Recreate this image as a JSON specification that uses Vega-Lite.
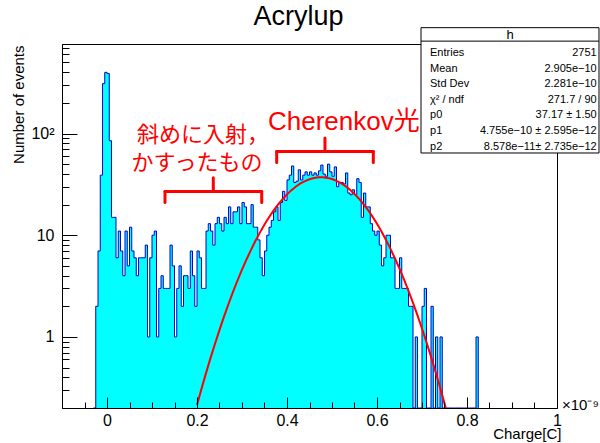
{
  "$schema": "https://vega.github.io/schema/vega-lite/v6.json",
  "width": 495,
  "height": 364,
  "autosize": {"type": "none"},
  "padding": {"left": 62, "top": 44, "right": 43, "bottom": 35},
  "background": "white",
  "config": {
    "view": {"stroke": "#000", "strokeWidth": 1},
    "axis": {"grid": false},
    "font": "Liberation Sans"
  },
  "title": {"text": "Acrylup", "font": "Liberation Sans", "fontSize": 27, "fontWeight": "normal", "color": "#000", "anchor": "middle", "frame": "group", "dx": -11, "offset": -25, "baseline": "alphabetic"},
  "datasets": {
    "hist": [
      {"charge": -0.03, "events": 0}, {"charge": -0.025, "events": 2}, {"charge": -0.02, "events": 7}, {"charge": -0.015, "events": 39},
      {"charge": -0.01, "events": 310}, {"charge": -0.005, "events": 400}, {"charge": 0, "events": 390}, {"charge": 0.005, "events": 85},
      {"charge": 0.01, "events": 15}, {"charge": 0.015, "events": 15}, {"charge": 0.02, "events": 6}, {"charge": 0.025, "events": 11},
      {"charge": 0.03, "events": 7}, {"charge": 0.035, "events": 4}, {"charge": 0.04, "events": 11}, {"charge": 0.045, "events": 5},
      {"charge": 0.05, "events": 12}, {"charge": 0.055, "events": 7}, {"charge": 0.06, "events": 6}, {"charge": 0.065, "events": 4},
      {"charge": 0.07, "events": 6}, {"charge": 0.075, "events": 6}, {"charge": 0.08, "events": 6}, {"charge": 0.085, "events": 8},
      {"charge": 0.09, "events": 1}, {"charge": 0.095, "events": 6}, {"charge": 0.1, "events": 10}, {"charge": 0.105, "events": 11},
      {"charge": 0.11, "events": 1}, {"charge": 0.115, "events": 3}, {"charge": 0.12, "events": 4}, {"charge": 0.125, "events": 3},
      {"charge": 0.13, "events": 3}, {"charge": 0.135, "events": 3}, {"charge": 0.14, "events": 8}, {"charge": 0.145, "events": 5},
      {"charge": 0.15, "events": 1}, {"charge": 0.155, "events": 3}, {"charge": 0.16, "events": 5}, {"charge": 0.165, "events": 2},
      {"charge": 0.17, "events": 4}, {"charge": 0.175, "events": 4}, {"charge": 0.18, "events": 3}, {"charge": 0.185, "events": 7},
      {"charge": 0.19, "events": 4}, {"charge": 0.195, "events": 2}, {"charge": 0.2, "events": 7}, {"charge": 0.205, "events": 6},
      {"charge": 0.21, "events": 3}, {"charge": 0.215, "events": 3}, {"charge": 0.22, "events": 11}, {"charge": 0.225, "events": 13},
      {"charge": 0.23, "events": 11}, {"charge": 0.235, "events": 8}, {"charge": 0.24, "events": 13}, {"charge": 0.245, "events": 15},
      {"charge": 0.25, "events": 13}, {"charge": 0.255, "events": 11}, {"charge": 0.26, "events": 15}, {"charge": 0.265, "events": 13},
      {"charge": 0.27, "events": 19}, {"charge": 0.275, "events": 13}, {"charge": 0.28, "events": 17}, {"charge": 0.285, "events": 17},
      {"charge": 0.29, "events": 19}, {"charge": 0.295, "events": 13}, {"charge": 0.3, "events": 21}, {"charge": 0.305, "events": 19},
      {"charge": 0.31, "events": 13}, {"charge": 0.315, "events": 13}, {"charge": 0.32, "events": 20}, {"charge": 0.325, "events": 12},
      {"charge": 0.33, "events": 12}, {"charge": 0.335, "events": 9}, {"charge": 0.34, "events": 6}, {"charge": 0.345, "events": 4},
      {"charge": 0.35, "events": 7}, {"charge": 0.355, "events": 10}, {"charge": 0.36, "events": 12}, {"charge": 0.365, "events": 14},
      {"charge": 0.37, "events": 17}, {"charge": 0.375, "events": 19}, {"charge": 0.38, "events": 14}, {"charge": 0.385, "events": 21},
      {"charge": 0.39, "events": 27}, {"charge": 0.395, "events": 22}, {"charge": 0.4, "events": 35}, {"charge": 0.405, "events": 39},
      {"charge": 0.41, "events": 48}, {"charge": 0.415, "events": 33}, {"charge": 0.42, "events": 34}, {"charge": 0.425, "events": 44},
      {"charge": 0.43, "events": 35}, {"charge": 0.435, "events": 39}, {"charge": 0.44, "events": 42}, {"charge": 0.445, "events": 39},
      {"charge": 0.45, "events": 42}, {"charge": 0.455, "events": 39}, {"charge": 0.46, "events": 41}, {"charge": 0.465, "events": 39},
      {"charge": 0.47, "events": 43}, {"charge": 0.475, "events": 49}, {"charge": 0.48, "events": 40}, {"charge": 0.485, "events": 38},
      {"charge": 0.49, "events": 50}, {"charge": 0.495, "events": 42}, {"charge": 0.5, "events": 38}, {"charge": 0.505, "events": 47},
      {"charge": 0.51, "events": 30}, {"charge": 0.515, "events": 33}, {"charge": 0.52, "events": 33}, {"charge": 0.525, "events": 32},
      {"charge": 0.53, "events": 41}, {"charge": 0.535, "events": 26}, {"charge": 0.54, "events": 25}, {"charge": 0.545, "events": 28},
      {"charge": 0.55, "events": 25}, {"charge": 0.555, "events": 36}, {"charge": 0.56, "events": 33}, {"charge": 0.565, "events": 15},
      {"charge": 0.57, "events": 26}, {"charge": 0.575, "events": 19}, {"charge": 0.58, "events": 19}, {"charge": 0.585, "events": 13},
      {"charge": 0.59, "events": 11}, {"charge": 0.595, "events": 10}, {"charge": 0.6, "events": 11}, {"charge": 0.605, "events": 8},
      {"charge": 0.61, "events": 5}, {"charge": 0.615, "events": 6}, {"charge": 0.62, "events": 10}, {"charge": 0.625, "events": 10},
      {"charge": 0.63, "events": 6}, {"charge": 0.635, "events": 6}, {"charge": 0.64, "events": 3}, {"charge": 0.645, "events": 3},
      {"charge": 0.65, "events": 6}, {"charge": 0.655, "events": 3}, {"charge": 0.66, "events": 3}, {"charge": 0.665, "events": 3},
      {"charge": 0.67, "events": 2}, {"charge": 0.675, "events": 2}, {"charge": 0.68, "events": 0}, {"charge": 0.685, "events": 1},
      {"charge": 0.69, "events": 0}, {"charge": 0.695, "events": 0}, {"charge": 0.7, "events": 2}, {"charge": 0.705, "events": 3},
      {"charge": 0.71, "events": 0}, {"charge": 0.715, "events": 0}, {"charge": 0.72, "events": 2}, {"charge": 0.725, "events": 0},
      {"charge": 0.73, "events": 1}, {"charge": 0.735, "events": 0}, {"charge": 0.74, "events": 1}, {"charge": 0.745, "events": 0},
      {"charge": 0.75, "events": 0}, {"charge": 0.755, "events": 0}, {"charge": 0.76, "events": 0}, {"charge": 0.765, "events": 0},
      {"charge": 0.77, "events": 0}, {"charge": 0.775, "events": 0}, {"charge": 0.78, "events": 0}, {"charge": 0.785, "events": 0},
      {"charge": 0.79, "events": 0}, {"charge": 0.795, "events": 0}, {"charge": 0.8, "events": 0}, {"charge": 0.805, "events": 0},
      {"charge": 0.81, "events": 0}, {"charge": 0.815, "events": 0}, {"charge": 0.82, "events": 1}, {"charge": 0.825, "events": 0}
    ],
    "fit": [
      {"charge": 0.2, "fit": 0.2139}, {"charge": 0.21, "fit": 0.309}, {"charge": 0.22, "fit": 0.4404}, {"charge": 0.23, "fit": 0.6188},
      {"charge": 0.24, "fit": 0.8577}, {"charge": 0.25, "fit": 1.1733}, {"charge": 0.26, "fit": 1.5837}, {"charge": 0.27, "fit": 2.108},
      {"charge": 0.28, "fit": 2.768}, {"charge": 0.29, "fit": 3.588}, {"charge": 0.3, "fit": 4.585}, {"charge": 0.31, "fit": 5.779},
      {"charge": 0.32, "fit": 7.188}, {"charge": 0.33, "fit": 8.82}, {"charge": 0.34, "fit": 10.675}, {"charge": 0.35, "fit": 12.746},
      {"charge": 0.36, "fit": 15.014}, {"charge": 0.37, "fit": 17.447}, {"charge": 0.38, "fit": 20.001}, {"charge": 0.39, "fit": 22.62},
      {"charge": 0.4, "fit": 25.235}, {"charge": 0.41, "fit": 27.771}, {"charge": 0.42, "fit": 30.151}, {"charge": 0.43, "fit": 32.291},
      {"charge": 0.44, "fit": 34.12}, {"charge": 0.45, "fit": 35.563}, {"charge": 0.46, "fit": 36.569}, {"charge": 0.47, "fit": 37.093},
      {"charge": 0.4755, "fit": 37.17}, {"charge": 0.48, "fit": 37.119}, {"charge": 0.49, "fit": 36.643}, {"charge": 0.5, "fit": 35.684},
      {"charge": 0.51, "fit": 34.282}, {"charge": 0.52, "fit": 32.49}, {"charge": 0.53, "fit": 30.376}, {"charge": 0.54, "fit": 28.017},
      {"charge": 0.55, "fit": 25.493}, {"charge": 0.56, "fit": 22.881}, {"charge": 0.57, "fit": 20.261}, {"charge": 0.58, "fit": 17.697},
      {"charge": 0.59, "fit": 15.251}, {"charge": 0.6, "fit": 12.964}, {"charge": 0.61, "fit": 10.873}, {"charge": 0.62, "fit": 8.995},
      {"charge": 0.63, "fit": 7.34}, {"charge": 0.64, "fit": 5.91}, {"charge": 0.65, "fit": 4.694}, {"charge": 0.66, "fit": 3.678},
      {"charge": 0.67, "fit": 2.843}, {"charge": 0.68, "fit": 2.167}, {"charge": 0.69, "fit": 1.63}, {"charge": 0.7, "fit": 1.21},
      {"charge": 0.71, "fit": 0.8858}, {"charge": 0.72, "fit": 0.6397}, {"charge": 0.73, "fit": 0.4558}, {"charge": 0.74, "fit": 0.3201},
      {"charge": 0.75, "fit": 0.222}, {"charge": 0.76, "fit": 0.1519}
    ],
    "one": [{}]
  },
  "resolve": {"axis": {"x": "independent"}},
  "layer": [
    {
      "data": {"name": "hist"},
      "transform": [{"calculate": "datum.events > 0 ? datum.events : null", "as": "shown"}],
      "mark": {"type": "area", "interpolate": "step-after", "fill": "#00ffff", "clip": true, "invalid": "show"},
      "encoding": {
        "x": {
          "field": "charge", "type": "quantitative",
          "scale": {"domain": [-0.1, 1.0], "nice": false, "zero": false},
          "axis": {
            "orient": "bottom",
            "values": [0, 0.2, 0.4, 0.6, 0.8, 1],
            "format": "~g",
            "domain": true, "domainColor": "#000", "domainWidth": 1,
            "ticks": true, "tickColor": "#000", "tickWidth": 1, "tickSize": -11,
            "labels": true, "labelFont": "Liberation Sans", "labelFontSize": 16, "labelColor": "#000", "labelPadding": 15,
            "labelFlush": false, "labelOverlap": false,
            "title": "Charge[C]", "titleFont": "Liberation Sans", "titleFontSize": 15, "titleFontWeight": "normal", "titleColor": "#000",
            "titleAlign": "right", "titleAnchor": "end", "titleX": 499, "titleY": 30, "titleBaseline": "alphabetic",
            "zindex": 1
          }
        },
        "y": {
          "field": "shown", "type": "quantitative",
          "scale": {"type": "log", "domain": [0.2, 760], "nice": false},
          "axis": {
            "values": [0.3, 0.4, 0.5, 0.6, 0.7, 0.8, 0.9, 1, 2, 3, 4, 5, 6, 7, 8, 9, 10, 20, 30, 40, 50, 60, 70, 80, 90, 100, 200, 300, 400, 500, 600, 700],
            "domain": true, "domainColor": "#000", "domainWidth": 1,
            "tickColor": "#000", "tickWidth": 1,
            "tickSize": {"condition": {"test": "datum.value == 1 || datum.value == 10 || datum.value == 100", "value": -15}, "value": -7},
            "labelExpr": "datum.value == 1 ? '1' : datum.value == 10 ? '10' : datum.value == 100 ? '10²' : ''",
            "labelFont": "Liberation Sans", "labelFontSize": 16, "labelColor": "#000", "labelPadding": 23,
            "labelOverlap": false, "labelFlush": false,
            "title": "Number of events", "titleFont": "Liberation Sans", "titleFontSize": 15, "titleFontWeight": "normal", "titleColor": "#000",
            "titleAngle": -90, "titleAlign": "right", "titleBaseline": "middle", "titleX": -44, "titleY": 1,
            "zindex": 1
          }
        },
        "y2": {"datum": 0.2}
      }
    },
    {
      "data": {"name": "hist"},
      "transform": [{"calculate": "datum.events > 0 ? datum.events : null", "as": "shown"}],
      "mark": {"type": "line", "interpolate": "step-after", "stroke": "#0000cc", "strokeWidth": 1, "clip": true, "invalid": "show"},
      "encoding": {
        "x": {
          "field": "charge", "type": "quantitative",
          "axis": {
            "orient": "bottom",
            "values": [-0.05, 0.05, 0.1, 0.15, 0.25, 0.3, 0.35, 0.45, 0.5, 0.55, 0.65, 0.7, 0.75, 0.85, 0.9, 0.95],
            "domain": false, "labels": false, "title": null,
            "ticks": true, "tickColor": "#000", "tickWidth": 1, "tickSize": -6,
            "zindex": 1
          }
        },
        "y": {"field": "shown", "type": "quantitative"}
      }
    },
    {
      "data": {"name": "fit"},
      "mark": {"type": "line", "stroke": "#ff0000", "strokeWidth": 2, "clip": true},
      "encoding": {
        "x": {"field": "charge", "type": "quantitative", "axis": null},
        "y": {"field": "fit", "type": "quantitative"}
      }
    },
    {
      "data": {"name": "one"},
      "mark": {"type": "text", "text": "斜めに入射，", "font": "Noto Sans CJK JP", "fontSize": 22, "fill": "#ff0000", "align": "left", "baseline": "middle"},
      "encoding": {"x": {"datum": 0.0667, "axis": null}, "y": {"datum": 97.5}}
    },
    {
      "data": {"name": "one"},
      "mark": {"type": "text", "text": "かすったもの", "font": "Noto Sans CJK JP", "fontSize": 22, "fill": "#ff0000", "align": "left", "baseline": "middle"},
      "encoding": {"x": {"datum": 0.0544, "axis": null}, "y": {"datum": 51.6}}
    },
    {
      "data": {"name": "one"},
      "mark": {"type": "text", "text": "Cherenkov光", "font": "Liberation Sans, Noto Sans CJK JP", "fontSize": 26, "fill": "#ff0000", "align": "left", "baseline": "middle"},
      "encoding": {"x": {"datum": 0.3578, "axis": null}, "y": {"datum": 131}}
    },
    {"data": {"name": "one"}, "mark": {"type": "rule", "stroke": "#ff0000", "strokeWidth": 3, "strokeCap": "round"}, "encoding": {"x": {"datum": 0.1289, "axis": null}, "x2": {"datum": 0.3438}, "y": {"datum": 26.9}}},
    {"data": {"name": "one"}, "mark": {"type": "rule", "stroke": "#ff0000", "strokeWidth": 3, "strokeCap": "round"}, "encoding": {"x": {"datum": 0.1289, "axis": null}, "y": {"datum": 26.9}, "y2": {"datum": 20.96}}},
    {"data": {"name": "one"}, "mark": {"type": "rule", "stroke": "#ff0000", "strokeWidth": 3, "strokeCap": "round"}, "encoding": {"x": {"datum": 0.3438, "axis": null}, "y": {"datum": 26.9}, "y2": {"datum": 20.96}}},
    {"data": {"name": "one"}, "mark": {"type": "rule", "stroke": "#ff0000", "strokeWidth": 3, "strokeCap": "round"}, "encoding": {"x": {"datum": 0.2362, "axis": null}, "y": {"datum": 26.9}, "y2": {"datum": 36.7}}},
    {"data": {"name": "one"}, "mark": {"type": "rule", "stroke": "#ff0000", "strokeWidth": 3, "strokeCap": "round"}, "encoding": {"x": {"datum": 0.3771, "axis": null}, "x2": {"datum": 0.5918}, "y": {"datum": 66.8}}},
    {"data": {"name": "one"}, "mark": {"type": "rule", "stroke": "#ff0000", "strokeWidth": 3, "strokeCap": "round"}, "encoding": {"x": {"datum": 0.3771, "axis": null}, "y": {"datum": 66.8}, "y2": {"datum": 52.0}}},
    {"data": {"name": "one"}, "mark": {"type": "rule", "stroke": "#ff0000", "strokeWidth": 3, "strokeCap": "round"}, "encoding": {"x": {"datum": 0.5918, "axis": null}, "y": {"datum": 66.8}, "y2": {"datum": 52.0}}},
    {"data": {"name": "one"}, "mark": {"type": "rule", "stroke": "#ff0000", "strokeWidth": 3, "strokeCap": "round"}, "encoding": {"x": {"datum": 0.4844, "axis": null}, "y": {"datum": 66.8}, "y2": {"datum": 90.5}}},
    {
      "data": {"name": "one"},
      "mark": {"type": "rect", "fill": "white", "stroke": "#000", "strokeWidth": 1, "clip": false},
      "encoding": {"x": {"datum": 0.6978, "axis": null}, "x2": {"datum": 1.0933}, "y": {"datum": 1100}, "y2": {"datum": 64.4}}
    },
    {
      "data": {"name": "one"},
      "mark": {"type": "rule", "stroke": "#000", "strokeWidth": 1},
      "encoding": {"x": {"datum": 0.6978, "axis": null}, "x2": {"datum": 1.0933}, "y": {"datum": 811}}
    },
    {
      "data": {"name": "one"},
      "mark": {"type": "text", "text": "h", "font": "Liberation Sans", "fontSize": 13, "fill": "#000", "align": "center", "baseline": "middle"},
      "encoding": {"x": {"datum": 0.8956, "axis": null}, "y": {"datum": 934}}
    },
    {
      "data": {"name": "one"},
      "mark": {"type": "text", "text": "Entries\nMean\nStd Dev\nχ² / ndf\np0\np1\np2", "lineBreak": "\n", "lineHeight": 15.6, "font": "Liberation Sans", "fontSize": 11, "fill": "#000", "align": "left", "baseline": "top"},
      "encoding": {"x": {"datum": 0.7178, "axis": null}, "y": {"datum": 711}}
    },
    {
      "data": {"name": "one"},
      "mark": {"type": "text", "text": "2751\n2.905e−10\n2.281e−10\n271.7 / 90\n37.17 ± 1.50\n4.755e−10 ± 2.595e−12\n8.578e−11± 2.735e−12", "lineBreak": "\n", "lineHeight": 15.6, "font": "Liberation Sans", "fontSize": 11, "fill": "#000", "align": "right", "baseline": "top"},
      "encoding": {"x": {"datum": 1.0882, "axis": null}, "y": {"datum": 711}}
    },
    {
      "data": {"name": "one"},
      "mark": {"type": "text", "text": "×10⁻⁹", "font": "Liberation Sans", "fontSize": 15, "fill": "#000", "align": "left", "baseline": "middle"},
      "encoding": {"x": {"datum": 1.0111, "axis": null}, "y": {"datum": 0.212}}
    }
  ]
}
